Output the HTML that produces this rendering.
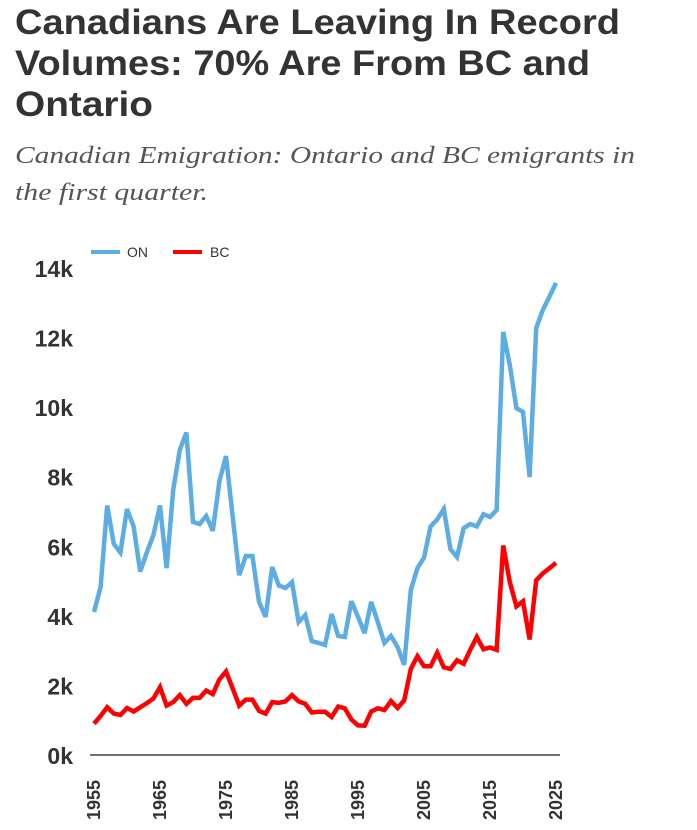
<!DOCTYPE html>
<html><head><meta charset="utf-8"><style>
html,body{margin:0;padding:0;background:#fff;}
svg{display:block;}
</style></head><body>
<svg id="chart" width="697" height="830" xmlns="http://www.w3.org/2000/svg">
<g font-family="Liberation Sans, sans-serif" font-weight="bold" font-size="35" fill="#333">
<text x="15" y="34" textLength="605" lengthAdjust="spacingAndGlyphs">Canadians Are Leaving In Record</text>
<text x="15" y="75" textLength="575" lengthAdjust="spacingAndGlyphs">Volumes: 70% Are From BC and</text>
<text x="15" y="116" textLength="138" lengthAdjust="spacingAndGlyphs">Ontario</text>
</g>
<g font-family="Liberation Serif, serif" font-style="italic" font-size="24" fill="#555">
<text x="15" y="163" textLength="620" lengthAdjust="spacingAndGlyphs">Canadian Emigration: Ontario and BC emigrants in</text>
<text x="15" y="200" textLength="193" lengthAdjust="spacingAndGlyphs">the first quarter.</text>
</g>
<g font-family="Liberation Sans, sans-serif" font-size="14" fill="#333">
<g><rect x="91" y="250" width="29" height="4" fill="#5DADE2"/><text x="127" y="257">ON</text></g>
<g><rect x="173" y="250" width="29" height="4" fill="#FF0000"/><text x="210" y="257">BC</text></g>
</g>
<g id="yaxis"></g>
<g id="xaxis"></g>
<g id="series"></g>
</svg>
<script>
const years = [];
for (let y = 1955; y <= 2025; y++) years.push(y);
const onValues = [4.14,4.86,7.2,6.1,5.85,7.1,6.6,5.3,5.85,6.35,7.2,5.4,7.65,8.8,9.3,6.73,6.67,6.9,6.47,7.9,8.62,6.9,5.2,5.75,5.75,4.43,4.0,5.43,4.9,4.83,5.0,3.85,4.05,3.3,3.25,3.19,4.08,3.45,3.42,4.45,4.0,3.53,4.43,3.85,3.25,3.45,3.13,2.62,4.77,5.4,5.7,6.6,6.8,7.1,5.95,5.72,6.55,6.67,6.6,6.95,6.87,7.07,12.19,11.24,10.0,9.89,8.02,12.3,12.82,13.2,13.6];
const bcValues = [0.93,1.15,1.4,1.22,1.18,1.38,1.28,1.4,1.52,1.65,1.98,1.45,1.55,1.75,1.5,1.67,1.67,1.88,1.78,2.2,2.43,1.95,1.45,1.62,1.62,1.3,1.22,1.55,1.53,1.57,1.75,1.57,1.5,1.25,1.27,1.27,1.12,1.42,1.37,1.05,0.88,0.87,1.28,1.37,1.32,1.58,1.38,1.6,2.5,2.87,2.58,2.58,2.97,2.55,2.5,2.75,2.65,3.05,3.42,3.07,3.12,3.05,6.05,5.0,4.3,4.45,3.35,5.05,5.25,5.4,5.55];
const yTicks = [0,2,4,6,8,10,12,14];
const yTickLabels = ["0k","2k","4k","6k","8k","10k","12k","14k"];
const xTicks = [1955,1965,1975,1985,1995,2005,2015,2025];

const NS = "http://www.w3.org/2000/svg";
const X0 = 94, X1 = 556, Y0 = 756, Y1 = 269;
const xScale = yr => X0 + (yr - 1955) / (2025 - 1955) * (X1 - X0);
const yScale = v => Y0 - v / 14 * (Y0 - Y1);
function mk(tag, attrs, parent) {
  const e = document.createElementNS(NS, tag);
  for (const k in attrs) e.setAttribute(k, attrs[k]);
  parent.appendChild(e);
  return e;
}
const yaxis = document.getElementById('yaxis');
yTicks.forEach((t, i) => {
  const tx = mk('text', {x: 73, y: yScale(t) + 8, 'text-anchor': 'end', 'font-family': 'Liberation Sans, sans-serif', 'font-weight': 'bold', 'font-size': '23', fill: '#333'}, yaxis);
  
  
  tx.textContent = yTickLabels[i];
});
const xaxis = document.getElementById('xaxis');
const axLine = mk('line', {x1: 90, x2: 560, y1: 755, y2: 755, stroke: '#444', 'stroke-width': 1.5}, xaxis);


xTicks.forEach(t => {
  const x = xScale(t) + 6;
  const tx = mk('text', {x: x, y: 780, transform: `rotate(-90 ${x} 780)`, 'text-anchor': 'end', 'font-family': 'Liberation Sans, sans-serif', 'font-weight': 'bold', 'font-size': '18', fill: '#333'}, xaxis);
  
  
  tx.textContent = t;
});
const series = document.getElementById('series');
function drawLine(vals, color, name) {
  const d = vals.map((v, i) => (i ? 'L' : 'M') + xScale(years[i]).toFixed(1) + ',' + yScale(v).toFixed(1)).join('');
  const p = mk('path', {d: d, fill: 'none', stroke: color, 'stroke-width': 4.5, 'stroke-linejoin': 'miter', 'stroke-miterlimit': 3}, series);
  
  
}
drawLine(onValues, '#5DADE2', 'on-line');
drawLine(bcValues, '#FF0000', 'bc-line');
</script>
</body></html>
